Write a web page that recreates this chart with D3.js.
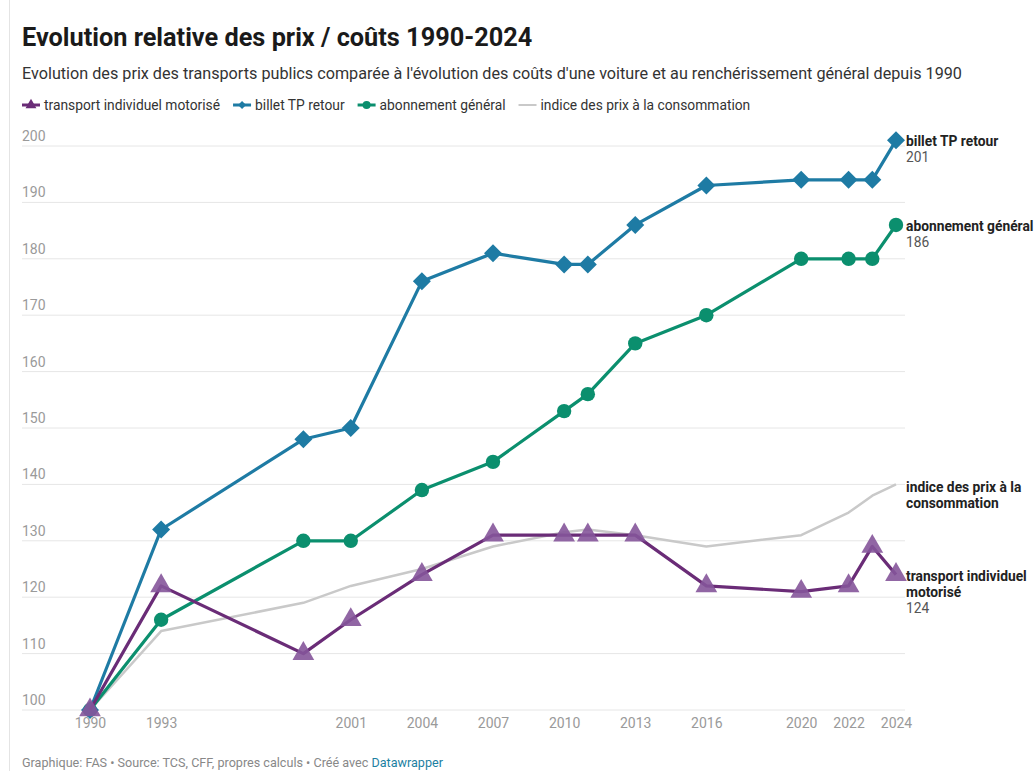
<!DOCTYPE html>
<html>
<head>
<meta charset="utf-8">
<script src="https://cdn.jsdelivr.net/npm/d3@7"></script>
<style>
  body { margin: 0; background: #fff; }
  svg { display: block; font-family: Roboto, "Noto Sans", sans-serif; }
</style>
</head>
<body>
<svg id="chart"></svg>
<script>
// data
const years = [1990, 1993, 1999, 2001, 2004, 2007, 2010, 2011, 2013, 2016, 2020, 2022, 2023, 2024];
const tim   = [100, 122, 110, 116, 124, 131, 131, 131, 131, 122, 121, 122, 129, 124];
const billet = [100, 132, 148, 150, 176, 181, 179, 179, 186, 193, 194, 194, 194, 201];
const abo   = [100, 116, 130, 130, 139, 144, 153, 156, 165, 170, 180, 180, 180, 186];
const ipc   = [100, 114, 119, 122, 125, 129, 131.5, 132, 131, 129, 131, 135, 138, 140];
const xTicks = [1990, 1993, 2001, 2004, 2007, 2010, 2013, 2016, 2020, 2022, 2024];
const yTicks = [100, 110, 120, 130, 140, 150, 160, 170, 180, 190, 200];

const series = [
  { key: "ipc", name: "indice des prix à la consommation", values: ipc, color: "#c9c9c9", marker: null,
    label: ["indice des prix à la", "consommation"], showVal: false },
  { key: "abo", name: "abonnement général", values: abo, color: "#0b8f6e", marker: "circle",
    label: ["abonnement général"], showVal: true },
  { key: "billet", name: "billet TP retour", values: billet, color: "#1e7ba4", marker: "diamond",
    label: ["billet TP retour"], showVal: true },
  { key: "tim", name: "transport individuel motorisé", values: tim, color: "#6a2c77", marker: "triangle",
    label: ["transport individuel", "motorisé"], showVal: true }
];
const legendOrder = ["tim", "billet", "abo", "ipc"];

const W = 1035, H = 771;
const svg = d3.select("#chart").attr("width", W).attr("height", H);

// left border line
svg.append("line").attr("x1", 9.5).attr("x2", 9.5).attr("y1", 0).attr("y2", H)
  .attr("stroke", "#e4e4e4").attr("stroke-width", 1);

// header
svg.append("text").attr("x", 22).attr("y", 46)
  .attr("font-size", 25.3).attr("font-weight", 700).attr("fill", "#1a1a1a")
  .text("Evolution relative des prix / coûts 1990-2024");
svg.append("text").attr("x", 22).attr("y", 79)
  .attr("font-size", 16.2).attr("fill", "#333")
  .text("Evolution des prix des transports publics comparée à l'évolution des coûts d'une voiture et au renchérissement général depuis 1990");

const x = d3.scaleLinear().domain([1990, 2024]).range([90, 896]);
const y = d3.scaleLinear().domain([100, 200]).range([710, 146]);

// marker shapes
function markerPath(m, s) {
  if (m === "diamond") return `M0,${-s}L${s},0L0,${s}L${-s},0Z`;
  if (m === "circle") return d3.symbol(d3.symbolCircle, Math.PI * s * s)();
  return d3.symbol(d3.symbolTriangle, s * s * 3.2)();
}
const markerSize = { circle: 7.2, diamond: 9, triangle: 8 };

// legend
const byKey = new Map(series.map(s => [s.key, s]));
let lx = 22;
const legend = svg.append("g").attr("transform", "translate(0,105)");
legendOrder.forEach(k => {
  const s = byKey.get(k);
  const g = legend.append("g").attr("transform", `translate(${lx},0)`);
  g.append("line").attr("x1", 0).attr("x2", 18).attr("y1", 0).attr("y2", 0)
    .attr("stroke", s.color).attr("stroke-width", s.marker ? 3 : 2);
  if (s.marker) {
    g.append("path").attr("transform", "translate(9,0)")
      .attr("d", markerPath(s.marker, 4)).attr("fill", s.color);
  }
  const t = g.append("text").attr("x", 22).attr("y", 5)
    .attr("font-size", 13.8).attr("fill", "#333").text(s.name);
  lx += 22 + t.node().getComputedTextLength() + 13;
});

// grid + y labels
const grid = svg.append("g");
yTicks.forEach(v => {
  grid.append("line").attr("x1", 22).attr("x2", 905)
    .attr("y1", y(v)).attr("y2", y(v))
    .attr("stroke", "#e6e6e6").attr("stroke-width", 1);
  grid.append("text").attr("x", 22).attr("y", y(v) - 5)
    .attr("font-size", 14).attr("fill", "#9a9a9a").text(v);
});

// x axis labels
const xAxis = svg.append("g").attr("transform", "translate(0,710)")
  .call(d3.axisBottom(x).tickValues(xTicks).tickFormat(d3.format("d")).tickSize(0).tickPadding(8));
xAxis.select(".domain").remove();
xAxis.selectAll("text").attr("font-size", 14).attr("fill", "#9a9a9a")
  .attr("font-family", "Roboto, 'Noto Sans', sans-serif");

// lines and markers
const line = d3.line().x((d, i) => x(years[i])).y(d => y(d));
series.forEach(s => {
  const g = svg.append("g");
  g.append("path").datum(s.values).attr("d", line)
    .attr("fill", "none").attr("stroke", s.color)
    .attr("stroke-width", s.marker ? 3.2 : 2.5).attr("stroke-linejoin", "round");
  if (s.marker) {
    g.selectAll("path.m").data(s.values).join("path").attr("class", "m")
      .attr("transform", (d, i) => `translate(${x(years[i])},${y(d)})`)
      .attr("d", markerPath(s.marker, markerSize[s.marker]))
      .attr("fill", s.marker === "triangle" ? "#85559a" : s.color)
      .attr("fill-opacity", s.marker === "triangle" ? 0.9 : 1);
  }
});

// direct labels on the right
series.forEach(s => {
  const last = s.values[s.values.length - 1];
  const top = y(last) + 6 - (s.key === "ipc" ? -2 : 0);
  const g = svg.append("g").attr("transform", `translate(906,${top})`);
  s.label.forEach((l, i) => {
    g.append("text").attr("x", 0).attr("y", i * 16)
      .attr("font-size", 13.8).attr("font-weight", 700).attr("fill", "#222").text(l);
  });
  if (s.showVal) {
    g.append("text").attr("x", 0).attr("y", s.label.length * 16)
      .attr("font-size", 13.8).attr("fill", "#555").text(d3.format("d")(last));
  }
});

// footer
const foot = svg.append("text").attr("x", 22).attr("y", 767)
  .attr("font-size", 12.6).attr("fill", "#888");
foot.append("tspan").text("Graphique: FAS • Source: TCS, CFF, propres calculs • Créé avec ");
foot.append("tspan").attr("fill", "#1d81a2").text("Datawrapper");
</script>
</body>
</html>
